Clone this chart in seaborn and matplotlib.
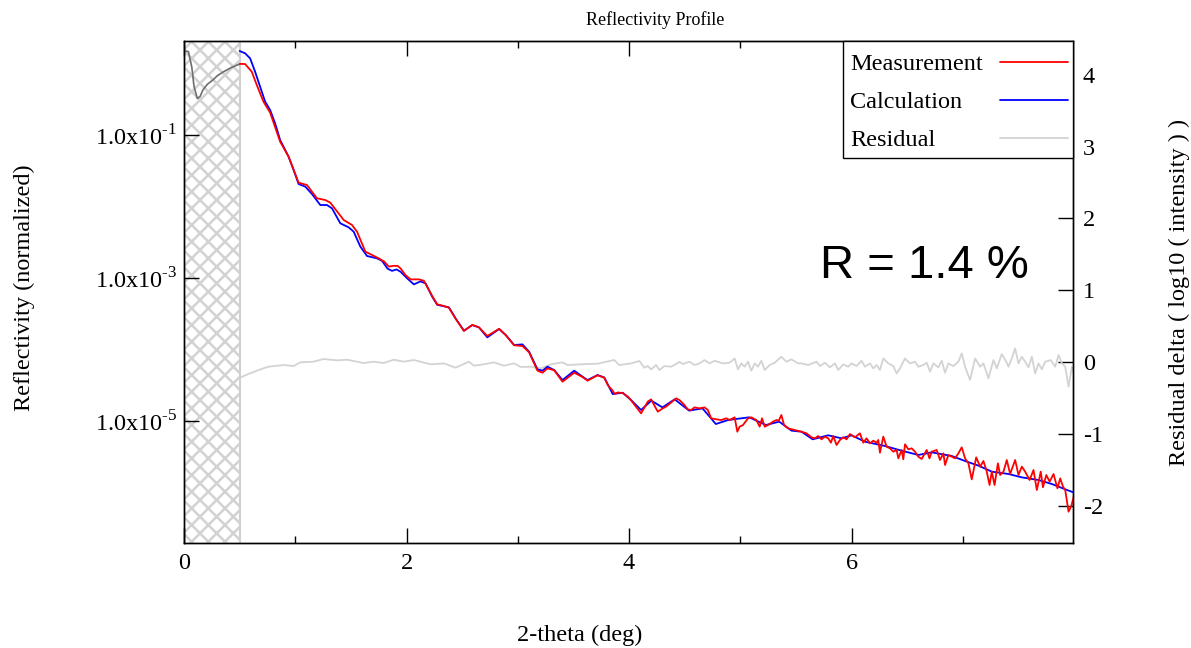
import matplotlib
matplotlib.use("Agg")
import matplotlib.pyplot as plt
from matplotlib.patches import Rectangle
from matplotlib.lines import Line2D
from matplotlib.ticker import NullLocator
import numpy as np
import seaborn as sns

# ---- data -------------------------------------------------------------
# Curve inside the masked (excluded) low-angle region, log10(reflectivity)
masked_deg = [0.0, 0.01, 0.04, 0.07, 0.09, 0.12, 0.145, 0.17, 0.21, 0.26, 0.30, 0.35, 0.42, 0.48, 0.50]
masked_log = [0.17, 0.18, 0.165, -0.05, -0.32, -0.49, -0.46, -0.37, -0.29, -0.23, -0.17, -0.12, -0.06, -0.02, -0.01]

# Measured reflectivity, log10
meas_deg = [0.50, 0.549, 0.609, 0.654, 0.714, 0.774, 0.864, 0.94, 1.03, 1.105, 1.195, 1.27, 1.315, 1.435,
            1.51, 1.555, 1.63, 1.69, 1.75, 1.80, 1.84, 1.88, 1.92, 1.946, 1.991, 2.036, 2.111, 2.156, 2.231,
            2.276, 2.306, 2.381, 2.441, 2.516, 2.591, 2.651, 2.726, 2.832, 2.892, 2.967, 3.042, 3.102, 3.177,
            3.222, 3.267, 3.327, 3.402, 3.507, 3.582, 3.627, 3.717, 3.777, 3.81, 3.853, 3.87, 3.90, 3.943,
            3.99, 4.018, 4.108, 4.168, 4.198, 4.258, 4.303, 4.333, 4.423, 4.453, 4.498, 4.528, 4.558, 4.588,
            4.633, 4.678, 4.708, 4.738, 4.784, 4.829, 4.874, 4.904, 4.949, 4.973, 4.994, 5.024, 5.069, 5.099,
            5.144, 5.174, 5.195, 5.219, 5.249, 5.294, 5.324, 5.345, 5.369, 5.393, 5.429, 5.489, 5.549, 5.595,
            5.640, 5.670, 5.700, 5.730, 5.760, 5.790, 5.814, 5.835, 5.865, 5.895, 5.925, 5.955, 5.985, 6.03,
            6.075, 6.105, 6.135, 6.165, 6.195, 6.225, 6.24, 6.255, 6.285, 6.315, 6.345, 6.375, 6.405, 6.42,
            6.45, 6.465, 6.48, 6.51, 6.54, 6.57, 6.60, 6.63, 6.675, 6.70, 6.72, 6.765, 6.795, 6.825, 6.84,
            6.87, 6.90, 6.93, 6.96, 6.99, 7.02, 7.05, 7.08, 7.12, 7.155, 7.185, 7.215, 7.24, 7.26, 7.285,
            7.315, 7.335, 7.365, 7.395, 7.425, 7.47, 7.50, 7.53, 7.56, 7.60, 7.635, 7.665, 7.70, 7.72, 7.75,
            7.78, 7.815, 7.85, 7.875, 7.90, 7.92, 7.95, 7.975, 8.0]
meas_log = [-0.005, -0.007, -0.114, -0.300, -0.533, -0.687, -1.093, -1.303, -1.666, -1.699, -1.885, -1.909,
            -1.946, -2.188, -2.258, -2.352, -2.631, -2.678, -2.725, -2.77, -2.84, -2.83, -2.83, -2.865, -2.959,
            -3.019, -3.019, -3.038, -3.252, -3.369, -3.378, -3.415, -3.57, -3.74, -3.655, -3.69, -3.811, -3.71,
            -3.80, -3.94, -3.951, -4.04, -4.296, -4.324, -4.264, -4.29, -4.45, -4.324, -4.385, -4.436, -4.36,
            -4.395, -4.50, -4.576, -4.62, -4.60, -4.61, -4.66, -4.71, -4.893, -4.729, -4.697, -4.869, -4.823,
            -4.799, -4.683, -4.706, -4.776, -4.837, -4.846, -4.809, -4.823, -4.809, -4.846, -4.962, -4.976,
            -4.986, -4.962, -4.986, -4.948, -5.149, -5.079, -5.056, -4.962, -4.948, -4.986, -5.079, -4.962,
            -5.079, -5.056, -5.009, -4.986, -4.995, -4.916, -5.056, -5.102, -5.126, -5.149, -5.172, -5.228,
            -5.242, -5.210, -5.256, -5.219, -5.242, -5.303, -5.210, -5.335, -5.266, -5.228, -5.256, -5.182,
            -5.228, -5.172, -5.303, -5.242, -5.312, -5.275, -5.303, -5.265, -5.443, -5.219, -5.359, -5.382,
            -5.429, -5.405, -5.522, -5.405, -5.536, -5.326, -5.396, -5.382, -5.429, -5.499, -5.531, -5.405,
            -5.522, -5.429, -5.405, -5.545, -5.452, -5.615, -5.475, -5.499, -5.522, -5.452, -5.368, -5.522,
            -5.592, -5.816, -5.508, -5.638, -5.559, -5.708, -5.895, -5.708, -5.895, -5.592, -5.755, -5.708,
            -5.545, -5.741, -5.545, -5.755, -5.638, -5.708, -5.825, -5.685, -5.965, -5.708, -5.927, -5.755,
            -5.848, -5.741, -5.941, -5.802, -5.918, -5.965, -6.268, -6.189, -6.035]

# Calculated (model) reflectivity, log10
calc_deg = [0.50, 0.549, 0.594, 0.639, 0.684, 0.729, 0.774, 0.819, 0.864, 0.940, 0.985, 1.030, 1.090, 1.150,
            1.225, 1.285, 1.330, 1.405, 1.480, 1.525, 1.585, 1.645, 1.735, 1.78, 1.83, 1.87, 1.91, 1.946,
            2.006, 2.066, 2.126, 2.171, 2.231, 2.276, 2.306, 2.381, 2.441, 2.516, 2.591, 2.651, 2.726, 2.832,
            2.892, 2.967, 3.042, 3.102, 3.177, 3.222, 3.267, 3.327, 3.402, 3.507, 3.582, 3.627, 3.717, 3.777,
            3.853, 3.943, 4.018, 4.108, 4.20, 4.30, 4.41, 4.54, 4.66, 4.78, 4.89, 5.08, 5.23, 5.35, 5.46,
            5.55, 5.65, 5.79, 5.91, 6.00, 6.12, 6.30, 6.45, 6.60, 6.72, 6.90, 7.02, 7.14, 7.26, 7.41, 7.53,
            7.68, 7.80, 7.92, 8.0]
calc_log = [0.175, 0.143, 0.073, -0.114, -0.324, -0.533, -0.650, -0.837, -1.070, -1.303, -1.489, -1.685,
            -1.722, -1.825, -1.979, -1.979, -2.025, -2.235, -2.291, -2.352, -2.561, -2.692, -2.725, -2.76,
            -2.87, -2.90, -2.88, -2.912, -3.005, -3.089, -3.047, -3.075, -3.262, -3.375, -3.385, -3.410, -3.564,
            -3.737, -3.658, -3.690, -3.830, -3.713, -3.797, -3.937, -3.928, -4.031, -4.278, -4.296, -4.240,
            -4.287, -4.427, -4.296, -4.380, -4.427, -4.357, -4.390, -4.623, -4.604, -4.707, -4.846, -4.715,
            -4.809, -4.697, -4.855, -4.823, -5.042, -4.986, -4.948, -5.056, -5.009, -5.135, -5.149, -5.256,
            -5.200, -5.242, -5.200, -5.289, -5.349, -5.415, -5.475, -5.438, -5.489, -5.559, -5.624, -5.708,
            -5.741, -5.788, -5.825, -5.881, -5.955, -6.002]

# Residual: log10(measured) - log10(calculated)
resid_deg = [0.50, 0.594, 0.714, 0.759, 0.895, 0.985, 1.045, 1.165, 1.255, 1.375, 1.465, 1.615, 1.705, 1.795,
             1.885, 1.976, 2.066, 2.216, 2.336, 2.441, 2.561, 2.606, 2.696, 2.786, 2.876, 2.966, 3.027, 3.117,
             3.207, 3.297, 3.402, 3.447, 3.567, 3.717, 3.867, 3.912, 4.018, 4.093, 4.138, 4.168, 4.198, 4.243,
             4.273, 4.318, 4.378, 4.423, 4.453, 4.483, 4.543, 4.588, 4.633, 4.678, 4.724, 4.769, 4.844, 4.904,
             4.949, 4.979, 5.009, 5.039, 5.069, 5.099, 5.129, 5.159, 5.189, 5.219, 5.264, 5.309, 5.369, 5.414,
             5.459, 5.519, 5.55, 5.61, 5.685, 5.715, 5.76, 5.805, 5.85, 5.88, 5.925, 5.97, 6.0, 6.045, 6.09,
             6.12, 6.165, 6.195, 6.225, 6.255, 6.285, 6.33, 6.375, 6.405, 6.435, 6.48, 6.525, 6.57, 6.60,
             6.645, 6.675, 6.705, 6.735, 6.78, 6.81, 6.84, 6.87, 6.915, 6.96, 6.99, 7.02, 7.065, 7.11, 7.155,
             7.185, 7.23, 7.275, 7.305, 7.35, 7.39, 7.41, 7.44, 7.47, 7.50, 7.53, 7.56, 7.59, 7.62, 7.65, 7.68,
             7.71, 7.74, 7.79, 7.83, 7.86, 7.89, 7.92, 7.95, 7.98, 8.0]
resid_val = [-0.22, -0.157, -0.088, -0.065, -0.042, -0.056, -0.005, 0.005, 0.042, 0.023, 0.032, -0.014, 0.005,
             -0.014, 0.032, 0.005, 0.028, -0.032, -0.019, -0.079, 0.005, -0.051, -0.032, -0.005, -0.051, -0.019,
             -0.069, -0.065, -0.088, -0.032, -0.005, -0.042, -0.032, -0.023, 0.028, -0.042, -0.019, 0.014,
             -0.079, -0.056, -0.102, -0.042, -0.111, -0.056, -0.065, -0.028, 0.004, -0.028, 0.004, -0.042,
             -0.019, 0.027, -0.019, 0.018, -0.019, -0.010, 0.050, -0.102, -0.019, -0.065, 0.004, -0.121, -0.019,
             -0.065, 0.018, -0.111, -0.042, -0.010, 0.074, 0.004, 0.037, -0.019, -0.019, -0.042, 0.004, -0.056,
             -0.010, -0.074, -0.019, -0.111, -0.033, -0.065, -0.019, -0.056, 0.018, -0.065, -0.019, -0.088,
             -0.042, -0.111, 0.050, -0.019, -0.056, -0.158, -0.088, 0.050, -0.019, 0.004, -0.065, -0.042,
             -0.010, -0.135, -0.019, -0.074, 0.018, -0.149, -0.019, -0.056, 0.004, 0.120, -0.065, -0.250, 0.050,
             -0.065, -0.019, -0.227, 0.027, -0.088, 0.111, 0.004, -0.065, 0.050, 0.189, -0.019, 0.074, 0.004,
             -0.074, 0.074, -0.158, -0.019, -0.102, 0.004, 0.027, -0.065, 0.097, -0.019, -0.065, -0.343,
             -0.065, -0.158]

mask_limit = 0.5
left_ticks = [1e-1, 1e-3, 1e-5]
left_tick_labels = ["1.0x10$^{\\text{-1}}$", "1.0x10$^{\\text{-3}}$", "1.0x10$^{\\text{-5}}$"]
right_ticks = [-2, -1, 0, 1, 2, 3, 4]
series_names = ["Measurement", "Calculation", "Residual"]
series_colors = ["#ff0000", "#0000ff", "#d3d3d3"]

# ---- style -------------------------------------------------------------
sns.set_theme(style="ticks")
plt.rcParams["font.family"] = ["Liberation Serif", "DejaVu Serif"]
plt.rcParams["mathtext.fontset"] = "custom"
plt.rcParams["mathtext.rm"] = "Liberation Serif"
plt.rcParams["axes.unicode_minus"] = False
plt.rcParams["hatch.linewidth"] = 1.8
plt.rcParams["hatch.color"] = "#d2d2d2"
for key in ("text.color", "axes.labelcolor", "xtick.color", "ytick.color", "axes.edgecolor"):
    plt.rcParams[key] = "black"

fig = plt.figure(figsize=(11.91, 6.48), dpi=100)
ax = fig.add_axes([184 / 1191, 105 / 648, 889 / 1191, 502 / 648])
ax2 = ax.twinx()
ax.set_zorder(ax2.get_zorder() + 1)
ax.patch.set_visible(False)

# masked region
ax2.add_patch(Rectangle((0, -10), mask_limit, 20, facecolor="white", edgecolor="#d2d2d2",
                        hatch="xx", linewidth=0, zorder=0))
ax2.axvline(mask_limit, color="#d0d0d0", lw=1.5, zorder=1)

# residual on the right axis
sns.lineplot(x=resid_deg, y=resid_val, ax=ax2, color=series_colors[2], linewidth=1.3,
             estimator=None, sort=False)

# reflectivity curves on the left (log) axis
sns.lineplot(x=masked_deg, y=10 ** np.array(masked_log), ax=ax, color="#6e6e6e", linewidth=1.2,
             estimator=None, sort=False)
sns.lineplot(x=calc_deg, y=10 ** np.array(calc_log), ax=ax, color=series_colors[1], linewidth=1.3,
             estimator=None, sort=False)
sns.lineplot(x=meas_deg, y=10 ** np.array(meas_log), ax=ax, color=series_colors[0], linewidth=1.3,
             estimator=None, sort=False)

# axes ranges and ticks
ax.set_xlim(0, 7.99)
ax.set_yscale("log")
ax.set_ylim(10 ** -6.706, 10 ** 0.315)
ax.set_xticks([0, 2, 4, 6])
ax.set_xticks([1, 3, 5, 7], minor=True)
ax.set_yticks(left_ticks)
ax.set_yticklabels(left_tick_labels)
ax.yaxis.set_minor_locator(NullLocator())
ax.tick_params(axis="both", which="both", direction="in", top=True, right=False,
               labelsize=17.5, colors="black")
ax.tick_params(axis="both", which="major", length=11, width=1)
ax.tick_params(axis="x", which="minor", length=5, width=1)
ax.tick_params(axis="x", which="major", pad=7)
ax.tick_params(axis="y", which="major", pad=5)

ax2.set_ylim(-2.52, 4.47)
ax2.set_yticks(right_ticks)
ax2.tick_params(axis="y", which="major", direction="in", length=11, width=1, labelsize=17.5, pad=7,
                colors="black")

for a in (ax, ax2):
    for s in a.spines.values():
        s.set_color("black")
        s.set_linewidth(1.0)

# labels
fig.text(655 / 1191, 1 - 20 / 648, "Reflectivity Profile", fontsize=13, ha="center", va="center")
ax.set_xlabel("2-theta (deg)", fontsize=17.5)
ax.xaxis.set_label_coords(0.445, -0.185)
ax.xaxis.label.set_verticalalignment("center")
ax.set_ylabel("Reflectivity (normalized)", fontsize=17.5)
ax.yaxis.set_label_coords(-0.18, 0.508)
ax.yaxis.label.set_verticalalignment("center")
ax2.set_ylabel("Residual delta ( log10 ( intensity ) )", fontsize=17.5)
ax2.yaxis.set_label_coords(1.12, 0.5)
ax2.yaxis.label.set_verticalalignment("center")

ax.text(0.715, 0.528, "R = 1.4 %", transform=ax.transAxes, fontsize=34,
        family="Liberation Sans", ha="left", va="baseline", color="black")

# legend box: names left-aligned, line samples on the right
box_left, box_bottom = 0.741, 0.767
ax.add_patch(Rectangle((box_left, box_bottom), 1 - box_left, 1 - box_bottom, transform=ax.transAxes,
                       facecolor="white", edgecolor="black", linewidth=1.0, zorder=10, clip_on=False))
row_y = [0.958, 0.882, 0.807]
for name, color, yy in zip(series_names, series_colors, row_y):
    ax.text(0.749, yy, name, transform=ax.transAxes, fontsize=17.5, ha="left", va="center_baseline",
            zorder=11)
    ax.add_line(Line2D([0.918, 0.994], [yy, yy], transform=ax.transAxes, color=color, lw=1.3,
                       zorder=11))

fig.savefig("out.png", dpi=100)
